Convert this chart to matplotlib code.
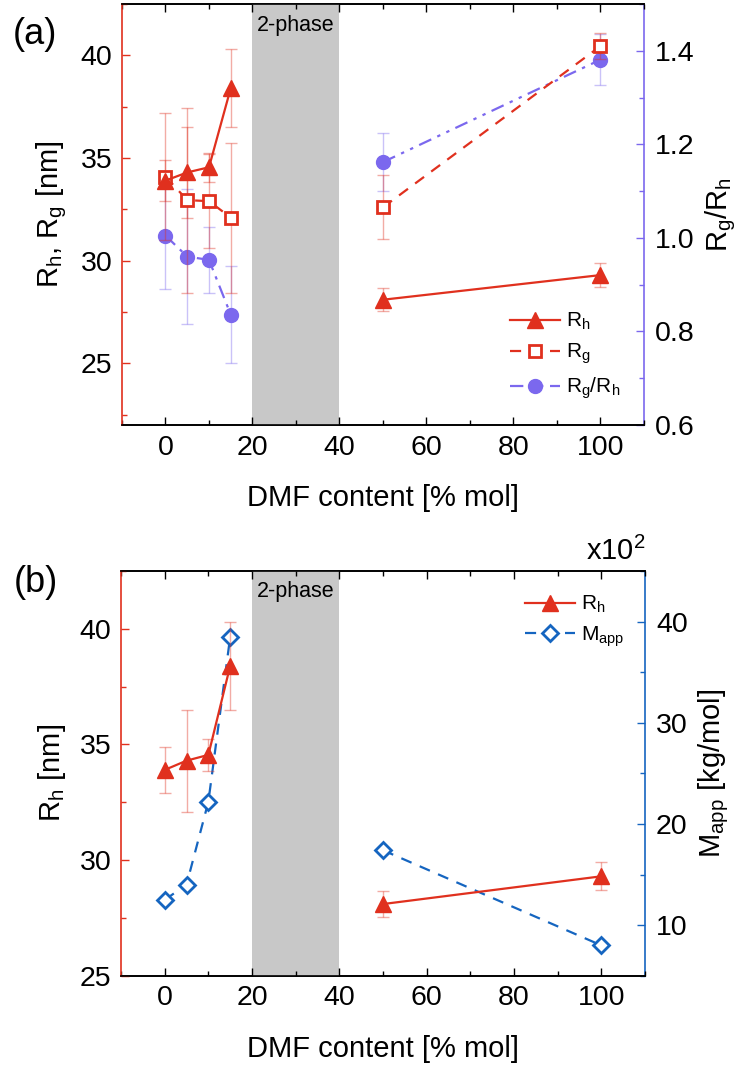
import numpy as np
import matplotlib
matplotlib.use("Agg")
import matplotlib.pyplot as plt
from matplotlib.ticker import MultipleLocator

# ── PALETTE ────────────────────────────────────────────────
RED    = "#E0301E"
PURPLE = "#7B68EE"
BLUE   = "#1565C0"
GRAY   = "#C8C8C8"

plt.rcParams.update({
    "font.family":      ["Liberation Sans", "DejaVu Sans"],
    "mathtext.default": "regular",
    "font.size":        20.5,
})

# ── DATA ───────────────────────────────────────────────────
dmf      = [0, 5, 10, 15, 50, 100]
rh       = [33.9, 34.3, 34.55, 38.4, 28.1, 29.3]
rh_err   = [1.0, 2.2, 0.7, 1.9, 0.55, 0.6]
rg       = [34.1, 32.95, 32.9, 32.1, 32.6, 40.45]
rg_err   = [3.1, 4.5, 2.3, 3.65, 1.55, 0.65]
ratio    = [1.005, 0.96, 0.953, 0.836, 1.162, 1.381]
ratio_err = [0.114, 0.144, 0.07, 0.104, 0.062, 0.055]
mapp     = [12.5, 14.0, 22.2, 38.5, 17.4, 8.0]   # x10^2 kg/mol

two_phase = (20, 40)
lo, hi = slice(0, 4), slice(4, 6)   # line is broken across the 2-phase region

DASH    = (0, (5, 4))
DASHDOT = (0, (6, 3, 1.5, 3, 1.5, 3))


def style_axes(ax, twin, right_color):
    ax.set_xlim(-10, 110)
    ax.xaxis.set_major_locator(MultipleLocator(20))
    ax.xaxis.set_minor_locator(MultipleLocator(10))
    ax.tick_params(axis="x", which="both", direction="in", top=True, pad=7)
    ax.tick_params(axis="x", which="major", length=6, width=1)
    ax.tick_params(axis="x", which="minor", length=3.5, width=1)
    ax.tick_params(axis="y", which="both", direction="in", color=RED, pad=7)
    ax.tick_params(axis="y", which="major", length=6, width=1)
    ax.tick_params(axis="y", which="minor", length=3.5, width=1)
    twin.tick_params(axis="y", which="both", direction="in", color=right_color, pad=8)
    twin.tick_params(axis="y", which="major", length=6, width=1)
    twin.tick_params(axis="y", which="minor", length=3.5, width=1)
    ax.spines["left"].set_color(RED)
    ax.spines["right"].set_visible(False)
    twin.spines["left"].set_visible(False)
    twin.spines["right"].set_color(right_color)
    for a in (ax, twin):
        for s in a.spines.values():
            s.set_linewidth(1.2)
    ax.axvspan(*two_phase, color=GRAY, lw=0, zorder=0)
    ax.text(30, 0.95, "2-phase", transform=ax.get_xaxis_transform(),
            ha="center", va="center", fontsize=15.5)
    ax.set_xlabel("DMF content [% mol]", fontsize=21, labelpad=17)


fig = plt.figure(figsize=(7.38, 10.85), dpi=100)

# ── PANEL (a) ──────────────────────────────────────────────
ax = fig.add_axes([0.1653, 0.6083, 0.7073, 0.388])
tw = ax.twinx()
ax.set_zorder(tw.get_zorder() + 1)
ax.patch.set_visible(False)

ax.errorbar(dmf, rh, yerr=rh_err, fmt="none", ecolor=RED, alpha=0.4,
            elinewidth=1, capsize=4)
ax.errorbar(dmf, rg, yerr=rg_err, fmt="none", ecolor=RED, alpha=0.4,
            elinewidth=1, capsize=4)
tw.errorbar(dmf, ratio, yerr=ratio_err, fmt="none", ecolor=PURPLE, alpha=0.4,
            elinewidth=1, capsize=4)

for sl in (lo, hi):
    tw.plot(dmf[sl], ratio[sl], color=PURPLE, lw=1.6, ls=DASHDOT,
            marker="o", ms=10)
    ax.plot(dmf[sl], rg[sl], color=RED, lw=1.6, ls=DASH,
            marker="s", ms=8, mfc="white", mew=2, zorder=3)
    ax.plot(dmf[sl], rh[sl], color=RED, lw=1.6, marker="^", ms=12, zorder=4)

ax.set_ylim(22, 42.5)
ax.yaxis.set_major_locator(MultipleLocator(5))
ax.yaxis.set_minor_locator(MultipleLocator(2.5))
tw.set_ylim(0.6, 1.5)
tw.yaxis.set_major_locator(MultipleLocator(0.2))
tw.yaxis.set_minor_locator(MultipleLocator(0.1))
style_axes(ax, tw, PURPLE)
ax.set_ylabel("R$_h$, R$_g$ [nm]", fontsize=21, labelpad=8)
tw.set_ylabel("R$_g$/R$_h$", fontsize=21, labelpad=6)

h1, = ax.plot([], [], color=RED, lw=1.6, marker="^", ms=12, label="R$_h$")
h2, = ax.plot([], [], color=RED, lw=1.6, ls=DASH, marker="s", ms=8,
              mfc="white", mew=2, label="R$_g$")
h3, = ax.plot([], [], color=PURPLE, lw=1.6, ls=DASHDOT,
              marker="o", ms=10, label="R$_g$/R$_h$")
ax.legend(handles=[h1, h2, h3], loc="lower right", bbox_to_anchor=(0.99, 0.012),
          frameon=False, fontsize=15, handlelength=2.4, handletextpad=0.3,
          labelspacing=0.45)
fig.text(0.048, 0.968, "(a)", fontsize=26, ha="center", va="center")

# ── PANEL (b) ──────────────────────────────────────────────
bx = fig.add_axes([0.164, 0.1007, 0.710, 0.373])
bt = bx.twinx()
bx.set_zorder(bt.get_zorder() + 1)
bx.patch.set_visible(False)

bx.errorbar(dmf, rh, yerr=rh_err, fmt="none", ecolor=RED, alpha=0.4,
            elinewidth=1, capsize=4)
for sl in (lo, hi):
    bt.plot(dmf[sl], mapp[sl], color=BLUE, lw=1.6, ls=DASH,
            marker="D", ms=8.5, mfc="white", mew=2)
    bx.plot(dmf[sl], rh[sl], color=RED, lw=1.6, marker="^", ms=12, zorder=4)

bx.set_ylim(25, 42.5)
bx.yaxis.set_major_locator(MultipleLocator(5))
bx.yaxis.set_minor_locator(MultipleLocator(2.5))
bt.set_ylim(5, 45)
bt.yaxis.set_major_locator(MultipleLocator(10))
bt.yaxis.set_minor_locator(MultipleLocator(5))
style_axes(bx, bt, BLUE)
bx.set_ylabel("R$_h$ [nm]", fontsize=21, labelpad=8)
bt.set_ylabel("M$_{app}$ [kg/mol]", fontsize=21, labelpad=6)
bt.text(1.0, 1.012, "x10$^2$", transform=bt.transAxes, ha="right", va="bottom",
        fontsize=21)

k1, = bx.plot([], [], color=RED, lw=1.6, marker="^", ms=12, label="R$_h$")
k2, = bx.plot([], [], color=BLUE, lw=1.6, ls=DASH, marker="D", ms=8.5,
              mfc="white", mew=2, label="M$_{app}$")
bx.legend(handles=[k1, k2], loc="upper right", bbox_to_anchor=(0.997, 0.99),
          frameon=False, fontsize=15, handlelength=2.4, handletextpad=0.3,
          labelspacing=0.45)
fig.text(0.048, 0.463, "(b)", fontsize=26, ha="center", va="center")

fig.savefig("out.png", dpi=100)
